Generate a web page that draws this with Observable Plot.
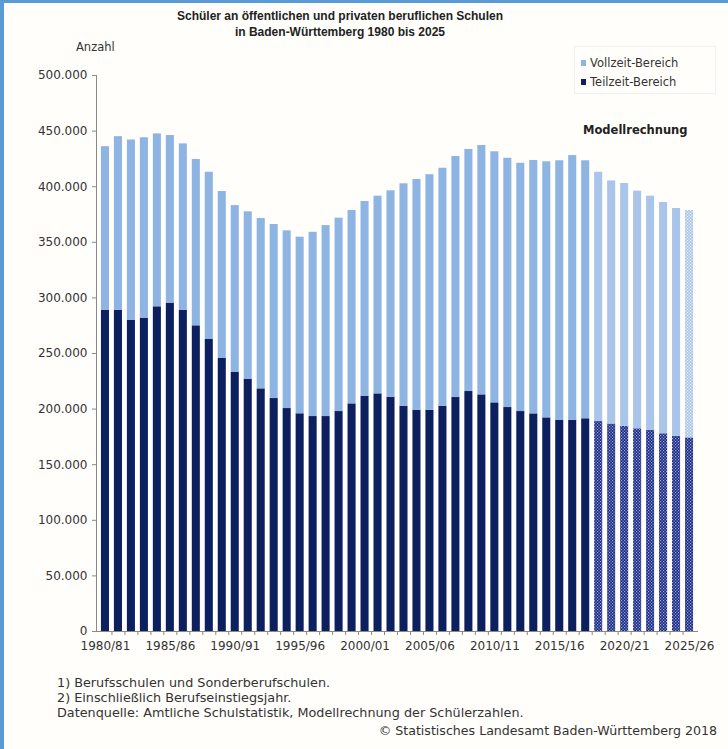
<!DOCTYPE html>
<html><head><meta charset="utf-8">
<script src="https://cdn.jsdelivr.net/npm/d3@7"></script>
<script src="https://cdn.jsdelivr.net/npm/@observablehq/plot@0.6"></script>
<style>
html,body{margin:0;padding:0;background:#fff;}
#wrap{position:relative;width:724px;height:746px;border-left:4px solid #5b9bd5;border-top:3px solid #5b9bd5;background:#fffefb;overflow:hidden;font-family:"DejaVu Sans",sans-serif;color:#333;}
#chart{position:absolute;left:-4px;top:-3px;}
.t{position:absolute;white-space:nowrap;}
</style></head>
<body><div id="wrap"><div id="chart"></div></div>
<script>
const labels = ["1980/81","1981/82","1982/83","1983/84","1984/85","1985/86","1986/87","1987/88","1988/89","1989/90",
"1990/91","1991/92","1992/93","1993/94","1994/95","1995/96","1996/97","1997/98","1998/99","1999/00",
"2000/01","2001/02","2002/03","2003/04","2004/05","2005/06","2006/07","2007/08","2008/09","2009/10",
"2010/11","2011/12","2012/13","2013/14","2014/15","2015/16","2016/17","2017/18","2018/19","2019/20",
"2020/21","2021/22","2022/23","2023/24","2024/25","2025/26"];
const shownLabels = ["1980/81","1985/86","1990/91","1995/96","2000/01","2005/06","2010/11","2015/16","2020/21","2025/26"];
const teilzeit = [288700,288700,279700,281800,292000,295300,288700,274900,262600,245500,
232900,226900,218200,209500,200500,195800,193300,193300,197800,204700,
211600,213700,210700,202600,199000,199000,202600,210400,215800,212800,
205600,201400,197800,195700,192100,190000,190000,191300,188800,186600,
184400,182300,180800,177800,175500,174100];
const vollzeit = [147300,156300,162300,162200,155500,150700,149800,149600,150400,150200,
150100,150500,153200,156500,159800,158800,165700,171700,173900,173900,
175100,177800,185600,200000,207500,211800,214000,216800,217700,224200,
225800,224200,223300,227900,230300,233300,238000,232000,224200,218600,
218500,213700,210700,208000,204900,204500];
const firstProjection = "2018/19";
const yTicks = [0,50000,100000,150000,200000,250000,300000,350000,400000,450000,500000];

const projIdx = labels.indexOf(firstProjection);
const rows = labels.map((l,i)=>({label:l, teil:teilzeit[i], top:teilzeit[i]+vollzeit[i], proj:i>=projIdx, last:i===labels.length-1}));
const fmt = d => d3.format(",")(d).replace(/,/g,".");

const W=728, mL=96, mR=30, pad=0.38;
const step=(W-mL-mR)/(labels.length - pad + 2*pad);

const chart = Plot.plot({
  width: W, height: 665,
  marginLeft: mL, marginRight: mR, marginTop: 75, marginBottom: 34,
  style: {fontFamily:"DejaVu Sans, sans-serif", fontSize:"12px", color:"#333", background:"transparent"},
  x: {type:"band", domain: labels, padding: pad, axis: null},
  y: {domain:[0,500000], axis: null},
  marks: [
    Plot.barY(rows.filter(d=>!d.proj), {x:"label", y1:0, y2:"teil", fill:"#0c1f5e"}),
    Plot.barY(rows.filter(d=>d.proj), {x:"label", y1:0, y2:"teil", fill:"url(#pTeil)"}),
    Plot.barY(rows.filter(d=>!d.proj), {x:"label", y1:"teil", y2:"top", fill:"#8db4e2"}),
    Plot.barY(rows.filter(d=>d.proj && !d.last), {x:"label", y1:"teil", y2:"top", fill:"#a9c5ea"}),
    Plot.barY(rows.filter(d=>d.last), {x:"label", y1:"teil", y2:"top", fill:"url(#pVoll)"}),
    Plot.axisY({ticks: yTicks, tickFormat: fmt, tickSize: 4, tickPadding: 5, stroke:"#888", fill:"#333", label:null}),
    Plot.axisX({tickSize: 0, tickPadding: 10, tickFormat: d => shownLabels.includes(d) ? d : "", fill:"#333", label:null}),
    Plot.axisX({ticks: labels.slice(0,-1), tickSize: 4, tickFormat: () => "", dx: step/2, stroke:"#888", label:null}),
    Plot.ruleY([0], {stroke:"#888"}),
    Plot.frame({anchor:"left", stroke:"#888"})
  ]
});

const defs = d3.select(chart).insert("defs", ":first-child");
const p1 = defs.append("pattern").attr("id","pTeil").attr("patternUnits","userSpaceOnUse").attr("width",3).attr("height",3);
p1.append("rect").attr("width",3).attr("height",3).attr("fill","#1b2a80");
p1.append("rect").attr("x",0).attr("y",0).attr("width",1.2).attr("height",1.2).attr("fill","#9aa8dc");
p1.append("rect").attr("x",1.5).attr("y",1.5).attr("width",1.2).attr("height",1.2).attr("fill","#9aa8dc");
const p2 = defs.append("pattern").attr("id","pVoll").attr("patternUnits","userSpaceOnUse").attr("width",3).attr("height",3);
p2.append("rect").attr("width",3).attr("height",3).attr("fill","#a9c5ea");
p2.append("rect").attr("x",0).attr("y",0).attr("width",1.2).attr("height",1.2).attr("fill","#eef3fb");
p2.append("rect").attr("x",1.5).attr("y",1.5).attr("width",1.2).attr("height",1.2).attr("fill","#eef3fb");

document.getElementById("chart").appendChild(chart);

const wrap = document.getElementById("wrap");
function addText(html, css){ const d=document.createElement("div"); d.className="t"; d.innerHTML=html; Object.assign(d.style, css); wrap.appendChild(d); return d; }
const ox=-4, oy=-3;
addText("Schüler an öffentlichen und privaten beruflichen Schulen<br>in Baden-Württemberg 1980 bis 2025",
  {left:(ox+140)+"px", width:"400px", top:(oy+8)+"px", textAlign:"center", fontFamily:"Liberation Sans, sans-serif", fontWeight:"bold", fontSize:"12px", lineHeight:"16px", color:"#222"});
addText("Anzahl", {left:(ox+76)+"px", top:(oy+40)+"px", fontSize:"11.5px"});
const lg = addText("", {left:(ox+574)+"px", top:(oy+46)+"px", width:"140px", height:"46px", border:"1px solid #f0f0f0", background:"#fffefb"});
lg.innerHTML = '<div style="position:absolute;left:6px;top:9px;font-size:11.5px"><span style="display:inline-block;width:5px;height:6px;background:#8db4e2;margin-right:4px;vertical-align:1px"></span>Vollzeit-Bereich</div>'+
 '<div style="position:absolute;left:6px;top:28px;font-size:11.5px"><span style="display:inline-block;width:5px;height:6px;background:#0c1f5e;margin-right:4px;vertical-align:1px"></span>Teilzeit-Bereich</div>';
addText("Modellrechnung", {left:(ox+583)+"px", top:(oy+123)+"px", fontWeight:"bold", fontSize:"11.5px", color:"#222"});
addText("1) Berufsschulen und Sonderberufschulen.", {left:(ox+57)+"px", top:(oy+675)+"px", fontSize:"12.8px"});
addText("2) Einschließlich Berufseinstiegsjahr.", {left:(ox+57)+"px", top:(oy+690)+"px", fontSize:"12.8px"});
addText("Datenquelle: Amtliche Schulstatistik, Modellrechnung der Schülerzahlen.", {left:(ox+57)+"px", top:(oy+705)+"px", fontSize:"12.8px"});
addText("© Statistisches Landesamt Baden-Württemberg 2018", {right:"11px", top:(oy+723)+"px", fontSize:"12.6px"});
</script>
</body></html>
